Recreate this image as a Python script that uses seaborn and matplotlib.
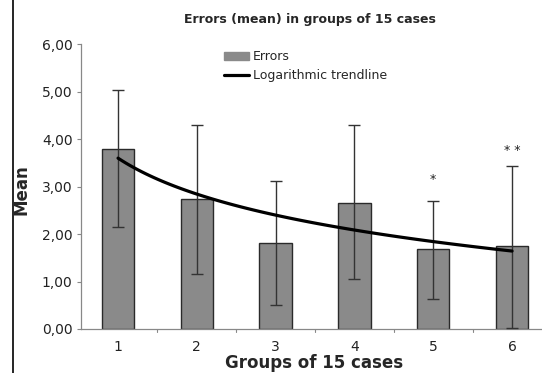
import numpy as np
import pandas as pd
import matplotlib
matplotlib.use("Agg")
import matplotlib.pyplot as plt
import seaborn as sns
from matplotlib.lines import Line2D
from matplotlib.patches import Patch

groups = ["1", "2", "3", "4", "5", "6"]
means = [3.78, 2.73, 1.81, 2.65, 1.68, 1.75]
err_low = [2.15, 1.16, 0.50, 1.05, 0.63, 0.02]
err_high = [5.03, 4.30, 3.11, 4.29, 2.70, 3.44]
marks = ["", "", "", "", "*", "* *"]
mark_y = [0, 0, 0, 0, 3.02, 3.63]
yticks = [0, 1, 2, 3, 4, 5, 6]
ytick_labels = ["0,00", "1,00", "2,00", "3,00", "4,00", "5,00", "6,00"]

sns.set_style("white")
plt.rcParams['font.family'] = ['DejaVu Sans']

df = pd.DataFrame({"group": groups, "mean": means})

W, H = 542, 373
fig = plt.figure(figsize=(W / 100, H / 100), dpi=100)
ax = fig.add_axes([81 / W, (H - 329) / H, (542 - 81) / W, (329 - 44) / H])

sns.barplot(data=df, x="group", y="mean", color="#8a8a8a", edgecolor="#2a2a2a",
            linewidth=1.0, width=0.41, saturation=1, ax=ax, errorbar=None, zorder=2)

x = np.arange(len(groups))
m = np.array(means)
lo = m - np.array(err_low)
hi = np.array(err_high) - m
ax.errorbar(x, m, yerr=[lo, hi], fmt="none", ecolor="#333333", elinewidth=1.0,
            capsize=4, capthick=1.0, zorder=3)

# logarithmic trendline fitted to the means
xn = x + 1
b, a = np.polyfit(np.log(xn), m, 1)
xs = np.linspace(1, 6, 100)
ax.plot(xs - 1, a + b * np.log(xs), color="black", linewidth=2.3, zorder=4)

for xi, t, yy in zip(x, marks, mark_y):
    if t:
        ax.text(xi, yy, t, ha="center", va="bottom", fontsize=9, color="#222222")

ax.set_xlim(-0.47, 5.38)
ax.set_ylim(0, 6)
ax.set_yticks(yticks)
ax.set_yticklabels(ytick_labels, fontsize=10, color="#222222")
ax.set_xticks(x)
ax.set_xticklabels(groups, fontsize=10, color="#222222")
ax.tick_params(axis="x", length=0, pad=8)
ax.tick_params(axis="y", length=3, width=0.8, color="#888888", left=True, pad=3)
for xt in np.arange(0.5, 5.5, 1.0):
    ax.plot([xt, xt], [0, -0.07], color="#888888", lw=0.8, clip_on=False)

for s in ["top", "right"]:
    ax.spines[s].set_visible(False)
for s in ["left", "bottom"]:
    ax.spines[s].set_color("#888888")
    ax.spines[s].set_linewidth(0.9)

ax.set_xlabel("")
ax.set_ylabel("")
fig.text(310 / W, 1 - 20 / H, "Errors (mean) in groups of 15 cases", ha="center",
         va="center", fontsize=9, fontweight="bold")
fig.text(22 / W, 1 - 190 / H, "Mean", rotation=90, ha="center", va="center",
         fontsize=12, fontweight="bold")
fig.text(314 / W, 1.5 / H, "Groups of 15 cases", ha="center", va="bottom",
         fontsize=12, fontweight="bold")

# left frame line
fig.add_artist(Line2D([13 / W, 13 / W], [0, 1], color="black", lw=1.2))

handles = [Patch(facecolor="#8a8a8a", edgecolor="#8a8a8a"),
           Line2D([], [], color="black", lw=2.3)]
leg = fig.legend(handles, ["Errors", "Logarithmic trendline"],
                 loc="upper left", bbox_to_anchor=(218 / W, 1 - 44 / H),
                 frameon=False, fontsize=9, handlelength=2.0, handletextpad=0.3,
                 labelspacing=0.5, borderpad=0)

fig.savefig("out.png", dpi=100)
